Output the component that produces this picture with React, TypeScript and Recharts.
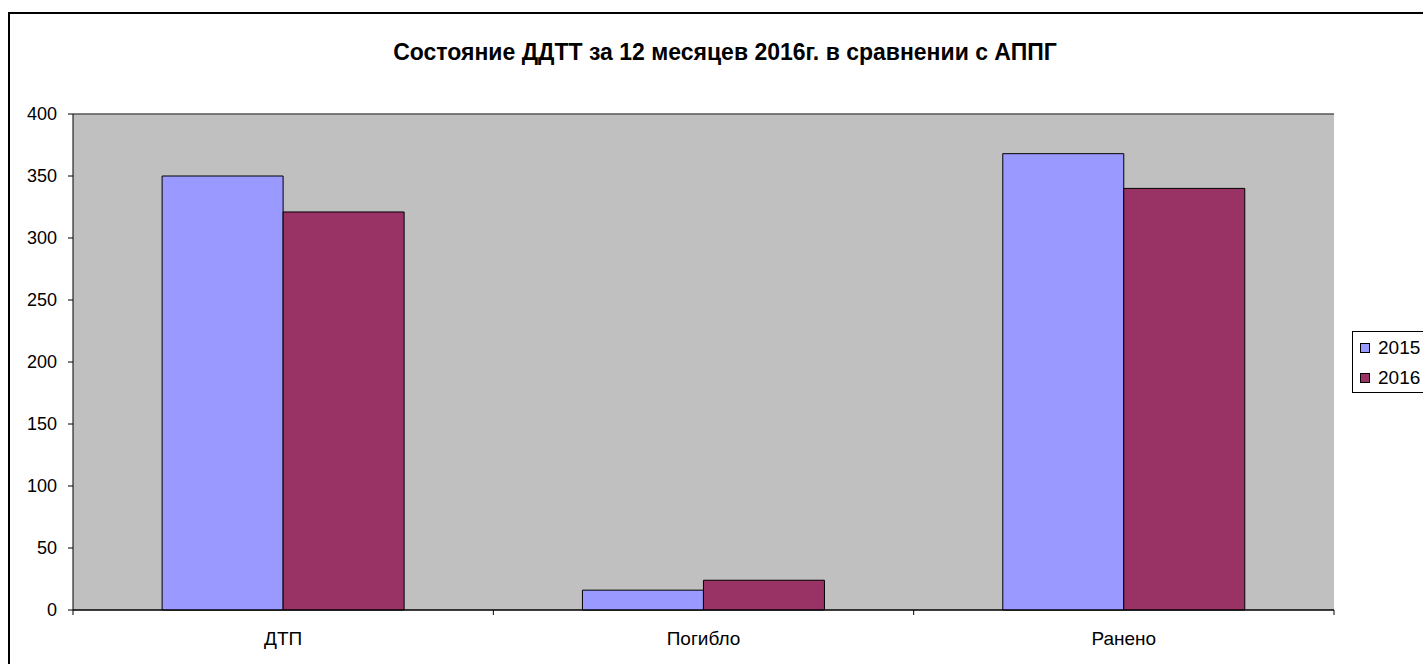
import React from 'react';
import { BarChart, Bar, XAxis, YAxis, CartesianGrid, ReferenceLine } from 'recharts';

const categories = ['ДТП', 'Погибло', 'Ранено'];
const values2015 = [350, 16, 368];
const values2016 = [321, 24, 340];
const yTicks = [0, 50, 100, 150, 200, 250, 300, 350, 400];

const SERIES = [
  { key: 'y2015', name: '2015', color: '#9999FF', values: values2015 },
  { key: 'y2016', name: '2016', color: '#993366', values: values2016 },
];

const data = categories.map((name, i) => ({
  name,
  y2015: values2015[i],
  y2016: values2016[i],
}));

const FONT = '"Liberation Sans", Arial, sans-serif';

const CategoryTick = (props: any) => {
  const { x, y, payload, index } = props;
  const off = payload?.offset ?? 210;
  return (
    <g>
      <line x1={x - off} y1={y} x2={x - off} y2={y + 5} stroke="#000" />
      {index === categories.length - 1 && (
        <line x1={x + off} y1={y} x2={x + off} y2={y + 5} stroke="#000" />
      )}
      <text x={x} y={y + 35} textAnchor="middle" fontSize={19} fill="#000" fontFamily={FONT}>
        {payload.value}
      </text>
    </g>
  );
};

const App: React.FC = () => {
  return (
    <div
      style={{
        position: 'fixed',
        left: 8,
        top: 12,
        width: 1415,
        height: 652,
        overflow: 'hidden',
        fontFamily: FONT,
      }}
    >
      <div
        style={{
          position: 'absolute',
          left: 0,
          top: 0,
          width: 1440,
          height: 680,
          borderLeft: '2px solid #000',
          borderTop: '2px solid #000',
          background: '#fff',
        }}
      >
        <div
          style={{
            position: 'absolute',
            left: 0,
            width: 1430,
            top: 25,
            textAlign: 'center',
            fontSize: 23,
            fontWeight: 'bold',
            color: '#000',
          }}
        >
          Состояние ДДТТ за 12 месяцев 2016г. в сравнении с АППГ
        </div>
        <div style={{ position: 'absolute', left: 0, top: 0 }}>
          <BarChart
            width={1440}
            height={680}
            data={data}
            margin={{ top: 100, right: 116, bottom: 34, left: 0 }}
            barCategoryGap="21.2%"
            barGap={0}
          >
            <CartesianGrid vertical={false} stroke="#000" fill="#C0C0C0" fillOpacity={1} />
            <XAxis
              dataKey="name"
              stroke="#000"
              tickLine={false}
              tickSize={0}
              tickMargin={0}
              height={50}
              tick={<CategoryTick />}
              interval={0}
            />
            <YAxis
              yAxisId="left"
              width={63}
              domain={[0, 400]}
              ticks={yTicks}
              stroke="#000"
              tickSize={5}
              tickMargin={11}
              tick={{ fill: '#000', fontSize: 18, fontFamily: FONT }}
              interval={0}
            />
            <YAxis
              yAxisId="right"
              orientation="right"
              width={0}
              domain={[0, 400]}
              stroke="#808080"
              tick={false}
              tickLine={false}
            />
            <ReferenceLine yAxisId="left" y={400} stroke="#808080" />
            {SERIES.map((s) => (
              <Bar
                key={s.key}
                yAxisId="left"
                dataKey={s.key}
                name={s.name}
                fill={s.color}
                stroke="#000"
                strokeWidth={1}
                isAnimationActive={false}
              />
            ))}
          </BarChart>
        </div>
        <div
          style={{
            position: 'absolute',
            left: 1342,
            top: 317,
            width: 90,
            height: 62,
            border: '1px solid #000',
            background: '#fff',
            boxSizing: 'border-box',
            paddingTop: 1,
          }}
        >
          {SERIES.map((s) => (
            <div
              key={s.key}
              style={{ display: 'flex', alignItems: 'center', height: 30, fontSize: 19, color: '#000' }}
            >
              <span
                style={{
                  display: 'inline-block',
                  width: 8,
                  height: 8,
                  marginLeft: 7,
                  marginRight: 8,
                  background: s.color,
                  border: '1px solid #000',
                }}
              />
              {s.name}
            </div>
          ))}
        </div>
      </div>
    </div>
  );
};

export default App;
